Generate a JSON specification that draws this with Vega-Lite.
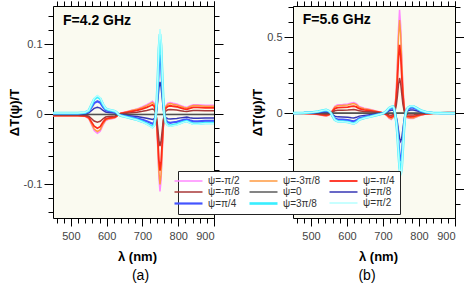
{
"$schema":"https://vega.github.io/schema/vega-lite/v6.json",
"autosize":{"type":"pad"},
"padding":{"left":7,"top":0,"right":0,"bottom":0},
"background":"white",
"spacing":79,
"bounds":"flush",
"resolve":{"scale":{"x":"independent","y":"independent","color":"shared","strokeWidth":"shared"},"legend":{"color":"shared","strokeWidth":"shared"}},
"config":{
 "view":{"stroke":"black","strokeWidth":1,"fill":"#fafaf0"},
 "axis":{"grid":false,"domain":false,"tickColor":"black","tickWidth":1,"labelColor":"#444","labelFont":"Liberation Sans","labelFontSize":11,"titleFont":"Liberation Sans","titleFontSize":13,"titleFontWeight":"bold","titleColor":"black"},
 "font":"Liberation Sans"
},
"datasets":{
"names":[{"k":"m4","psi":"ψ=-π/2"},{"k":"m3","psi":"ψ=-3π/8"},{"k":"m2","psi":"ψ=-π/4"},{"k":"m1","psi":"ψ=-π/8"},{"k":"z","psi":"ψ=0"},{"k":"p1","psi":"ψ=π/8"},{"k":"p2","psi":"ψ=π/4"},{"k":"p3","psi":"ψ=3π/8"},{"k":"p4","psi":"ψ=π/2"}],
"a":[
{"x":450,"m4":-0.002,"m3":-0.0018,"m2":-0.0015,"m1":-0.0008,"z":0,"p1":0.0008,"p2":0.0014,"p3":0.0019,"p4":0.002},
{"x":490,"m4":-0.002,"m3":-0.0018,"m2":-0.0015,"m1":-0.0008,"z":0,"p1":0.0008,"p2":0.0014,"p3":0.0019,"p4":0.002},
{"x":520,"m4":-0.002,"m3":-0.0018,"m2":-0.0015,"m1":-0.0008,"z":0,"p1":0.0008,"p2":0.0014,"p3":0.0019,"p4":0.002},
{"x":540,"m4":-0.003,"m3":-0.0027,"m2":-0.0022,"m1":-0.0012,"z":0,"p1":0.0011,"p2":0.0021,"p3":0.0028,"p4":0.003},
{"x":550,"m4":-0.006,"m3":-0.0055,"m2":-0.0044,"m1":-0.0025,"z":0,"p1":0.0023,"p2":0.0042,"p3":0.0056,"p4":0.006},
{"x":558,"m4":-0.015,"m3":-0.0137,"m2":-0.011,"m1":-0.0062,"z":0,"p1":0.0057,"p2":0.0105,"p3":0.0141,"p4":0.015},
{"x":565,"m4":-0.023,"m3":-0.0209,"m2":-0.0168,"m1":-0.0094,"z":0,"p1":0.0087,"p2":0.0161,"p3":0.0216,"p4":0.023},
{"x":574,"m4":-0.027,"m3":-0.0246,"m2":-0.0197,"m1":-0.0111,"z":0,"p1":0.0103,"p2":0.0189,"p3":0.0254,"p4":0.027},
{"x":582,"m4":-0.024,"m3":-0.0218,"m2":-0.0175,"m1":-0.0098,"z":0,"p1":0.0091,"p2":0.0168,"p3":0.0226,"p4":0.024},
{"x":590,"m4":-0.015,"m3":-0.0137,"m2":-0.011,"m1":-0.0062,"z":0,"p1":0.0057,"p2":0.0105,"p3":0.0141,"p4":0.015},
{"x":597,"m4":-0.009,"m3":-0.0082,"m2":-0.0066,"m1":-0.0037,"z":0,"p1":0.0034,"p2":0.0063,"p3":0.0085,"p4":0.009},
{"x":605,"m4":-0.007,"m3":-0.0064,"m2":-0.0051,"m1":-0.0029,"z":0,"p1":0.0027,"p2":0.0049,"p3":0.0066,"p4":0.007},
{"x":615,"m4":-0.006,"m3":-0.0055,"m2":-0.0044,"m1":-0.0025,"z":0,"p1":0.0023,"p2":0.0042,"p3":0.0056,"p4":0.006},
{"x":623,"m4":-0.005,"m3":-0.0046,"m2":-0.0037,"m1":-0.0021,"z":0,"p1":0.0019,"p2":0.0035,"p3":0.0047,"p4":0.005},
{"x":628,"m4":-0.003,"m3":-0.0027,"m2":-0.0022,"m1":-0.0012,"z":0,"p1":0.0011,"p2":0.0021,"p3":0.0028,"p4":0.003},
{"x":633,"m4":0,"m3":0,"m2":0,"m1":0,"z":0,"p1":0,"p2":0,"p3":0,"p4":0},
{"x":640,"m4":0.002,"m3":0.0018,"m2":0.0015,"m1":0.0008,"z":0,"p1":-0.0008,"p2":-0.0014,"p3":-0.0019,"p4":-0.002},
{"x":655,"m4":0.004,"m3":0.0036,"m2":0.0029,"m1":0.0016,"z":0,"p1":-0.0015,"p2":-0.0028,"p3":-0.0038,"p4":-0.004},
{"x":670,"m4":0.006,"m3":0.0055,"m2":0.0044,"m1":0.0025,"z":0,"p1":-0.0023,"p2":-0.0042,"p3":-0.0056,"p4":-0.006},
{"x":685,"m4":0.008,"m3":0.0073,"m2":0.0058,"m1":0.0033,"z":0,"p1":-0.003,"p2":-0.0056,"p3":-0.0075,"p4":-0.008},
{"x":700,"m4":0.011,"m3":0.01,"m2":0.008,"m1":0.0045,"z":0,"p1":-0.0042,"p2":-0.0077,"p3":-0.0103,"p4":-0.011},
{"x":712,"m4":0.014,"m3":0.0127,"m2":0.0102,"m1":0.0057,"z":0,"p1":-0.0053,"p2":-0.0098,"p3":-0.0132,"p4":-0.014},
{"x":722,"m4":0.017,"m3":0.0155,"m2":0.0124,"m1":0.007,"z":0,"p1":-0.0065,"p2":-0.0119,"p3":-0.016,"p4":-0.017},
{"x":728,"m4":0.019,"m3":0.0173,"m2":0.0139,"m1":0.0078,"z":0,"p1":-0.0072,"p2":-0.0133,"p3":-0.0179,"p4":-0.019},
{"x":733,"m4":0.016,"m3":0.0146,"m2":0.0117,"m1":0.0066,"z":0,"p1":-0.0061,"p2":-0.0112,"p3":-0.015,"p4":-0.016},
{"x":737,"m4":0.004,"m3":0.0036,"m2":0.0029,"m1":0.0016,"z":0,"p1":-0.0015,"p2":-0.0028,"p3":-0.0038,"p4":-0.004},
{"x":740,"m4":-0.016,"m3":-0.0146,"m2":-0.0117,"m1":-0.0066,"z":0,"p1":0.0068,"p2":0.0126,"p3":0.0169,"p4":0.018},
{"x":743,"m4":-0.05,"m3":-0.0455,"m2":-0.0365,"m1":-0.0205,"z":0,"p1":0.0209,"p2":0.0385,"p3":0.0517,"p4":0.055},
{"x":746,"m4":-0.09,"m3":-0.0819,"m2":-0.0657,"m1":-0.0369,"z":0,"p1":0.038,"p2":0.07,"p3":0.094,"p4":0.1},
{"x":749,"m4":-0.11,"m3":-0.1,"m2":-0.0803,"m1":-0.0451,"z":0,"p1":0.0464,"p2":0.0854,"p3":0.1147,"p4":0.122},
{"x":752,"m4":-0.0945,"m3":-0.086,"m2":-0.069,"m1":-0.0387,"z":0,"p1":0.0399,"p2":0.0735,"p3":0.0987,"p4":0.105},
{"x":755,"m4":-0.0585,"m3":-0.0532,"m2":-0.0427,"m1":-0.024,"z":0,"p1":0.0247,"p2":0.0455,"p3":0.0611,"p4":0.065},
{"x":758,"m4":-0.0225,"m3":-0.0205,"m2":-0.0164,"m1":-0.0092,"z":0,"p1":0.0095,"p2":0.0175,"p3":0.0235,"p4":0.025},
{"x":761,"m4":0,"m3":0,"m2":0,"m1":0,"z":0,"p1":0,"p2":0,"p3":0,"p4":0},
{"x":765,"m4":0.012,"m3":0.0109,"m2":0.0088,"m1":0.0049,"z":0,"p1":-0.0046,"p2":-0.0084,"p3":-0.0113,"p4":-0.012},
{"x":771,"m4":0.016,"m3":0.0146,"m2":0.0117,"m1":0.0066,"z":0,"p1":-0.0061,"p2":-0.0112,"p3":-0.015,"p4":-0.016},
{"x":778,"m4":0.017,"m3":0.0155,"m2":0.0124,"m1":0.007,"z":0,"p1":-0.0065,"p2":-0.0119,"p3":-0.016,"p4":-0.017},
{"x":786,"m4":0.016,"m3":0.0146,"m2":0.0117,"m1":0.0066,"z":0,"p1":-0.0061,"p2":-0.0112,"p3":-0.015,"p4":-0.016},
{"x":796,"m4":0.015,"m3":0.0137,"m2":0.011,"m1":0.0062,"z":0,"p1":-0.0057,"p2":-0.0105,"p3":-0.0141,"p4":-0.015},
{"x":806,"m4":0.013,"m3":0.0118,"m2":0.0095,"m1":0.0053,"z":0,"p1":-0.0049,"p2":-0.0091,"p3":-0.0122,"p4":-0.013},
{"x":816,"m4":0.011,"m3":0.01,"m2":0.008,"m1":0.0045,"z":0,"p1":-0.0042,"p2":-0.0077,"p3":-0.0103,"p4":-0.011},
{"x":824,"m4":0.01,"m3":0.0091,"m2":0.0073,"m1":0.0041,"z":0,"p1":-0.0038,"p2":-0.007,"p3":-0.0094,"p4":-0.01},
{"x":832,"m4":0.012,"m3":0.0109,"m2":0.0088,"m1":0.0049,"z":0,"p1":-0.0046,"p2":-0.0084,"p3":-0.0113,"p4":-0.012},
{"x":842,"m4":0.014,"m3":0.0127,"m2":0.0102,"m1":0.0057,"z":0,"p1":-0.0053,"p2":-0.0098,"p3":-0.0132,"p4":-0.014},
{"x":855,"m4":0.014,"m3":0.0127,"m2":0.0102,"m1":0.0057,"z":0,"p1":-0.0053,"p2":-0.0098,"p3":-0.0132,"p4":-0.014},
{"x":875,"m4":0.013,"m3":0.0118,"m2":0.0095,"m1":0.0053,"z":0,"p1":-0.0049,"p2":-0.0091,"p3":-0.0122,"p4":-0.013},
{"x":900,"m4":0.013,"m3":0.0118,"m2":0.0095,"m1":0.0053,"z":0,"p1":-0.0049,"p2":-0.0091,"p3":-0.0122,"p4":-0.013}
],
"b":[
{"x":450,"m4":0,"m3":0,"m2":0,"m1":0,"z":0,"p1":0,"p2":0,"p3":0,"p4":0},
{"x":480,"m4":-0.002,"m3":-0.0018,"m2":-0.0013,"m1":-0.0007,"z":0,"p1":0.0009,"p2":0.0015,"p3":0.0019,"p4":0.002},
{"x":505,"m4":-0.005,"m3":-0.0045,"m2":-0.0033,"m1":-0.0017,"z":0,"p1":0.0027,"p2":0.0046,"p3":0.0058,"p4":0.006},
{"x":520,"m4":-0.01,"m3":-0.009,"m2":-0.0066,"m1":-0.0034,"z":0,"p1":0.0049,"p2":0.0084,"p3":0.0107,"p4":0.011},
{"x":532,"m4":-0.016,"m3":-0.0144,"m2":-0.0106,"m1":-0.0054,"z":0,"p1":0.008,"p2":0.0137,"p3":0.0175,"p4":0.018},
{"x":542,"m4":-0.02,"m3":-0.018,"m2":-0.0132,"m1":-0.0068,"z":0,"p1":0.0098,"p2":0.0167,"p3":0.0213,"p4":0.022},
{"x":549,"m4":-0.015,"m3":-0.0135,"m2":-0.0099,"m1":-0.0051,"z":0,"p1":0.0071,"p2":0.0122,"p3":0.0155,"p4":0.016},
{"x":555,"m4":-0.002,"m3":-0.0018,"m2":-0.0013,"m1":-0.0007,"z":0,"p1":0.0009,"p2":0.0015,"p3":0.0019,"p4":0.002},
{"x":560,"m4":0.02,"m3":0.018,"m2":0.0132,"m1":0.0068,"z":0,"p1":-0.0089,"p2":-0.0152,"p3":-0.0194,"p4":-0.02},
{"x":566,"m4":0.045,"m3":0.0405,"m2":0.0297,"m1":0.0153,"z":0,"p1":-0.02,"p2":-0.0342,"p3":-0.0437,"p4":-0.045},
{"x":574,"m4":0.055,"m3":0.0495,"m2":0.0363,"m1":0.0187,"z":0,"p1":-0.0245,"p2":-0.0418,"p3":-0.0534,"p4":-0.055},
{"x":588,"m4":0.057,"m3":0.0513,"m2":0.0376,"m1":0.0194,"z":0,"p1":-0.0254,"p2":-0.0433,"p3":-0.0553,"p4":-0.057},
{"x":602,"m4":0.06,"m3":0.054,"m2":0.0396,"m1":0.0204,"z":0,"p1":-0.0267,"p2":-0.0456,"p3":-0.0582,"p4":-0.06},
{"x":612,"m4":0.067,"m3":0.0603,"m2":0.0442,"m1":0.0228,"z":0,"p1":-0.0298,"p2":-0.0509,"p3":-0.065,"p4":-0.067},
{"x":619,"m4":0.07,"m3":0.063,"m2":0.0462,"m1":0.0238,"z":0,"p1":-0.0312,"p2":-0.0532,"p3":-0.0679,"p4":-0.07},
{"x":626,"m4":0.062,"m3":0.0558,"m2":0.0409,"m1":0.0211,"z":0,"p1":-0.0276,"p2":-0.0471,"p3":-0.0601,"p4":-0.062},
{"x":634,"m4":0.044,"m3":0.0396,"m2":0.029,"m1":0.015,"z":0,"p1":-0.0196,"p2":-0.0334,"p3":-0.0427,"p4":-0.044},
{"x":648,"m4":0.033,"m3":0.0297,"m2":0.0218,"m1":0.0112,"z":0,"p1":-0.0147,"p2":-0.0251,"p3":-0.032,"p4":-0.033},
{"x":663,"m4":0.025,"m3":0.0225,"m2":0.0165,"m1":0.0085,"z":0,"p1":-0.0111,"p2":-0.019,"p3":-0.0243,"p4":-0.025},
{"x":678,"m4":0.016,"m3":0.0144,"m2":0.0106,"m1":0.0054,"z":0,"p1":-0.0071,"p2":-0.0122,"p3":-0.0155,"p4":-0.016},
{"x":692,"m4":0.007,"m3":0.0063,"m2":0.0046,"m1":0.0024,"z":0,"p1":-0.0031,"p2":-0.0053,"p3":-0.0068,"p4":-0.007},
{"x":702,"m4":0,"m3":0,"m2":0,"m1":0,"z":0,"p1":0,"p2":0,"p3":0,"p4":0},
{"x":710,"m4":-0.015,"m3":-0.0135,"m2":-0.0099,"m1":-0.0051,"z":0,"p1":0.0067,"p2":0.0114,"p3":0.0146,"p4":0.015},
{"x":717,"m4":-0.035,"m3":-0.0315,"m2":-0.0231,"m1":-0.0119,"z":0,"p1":0.0156,"p2":0.0266,"p3":0.034,"p4":0.035},
{"x":723,"m4":-0.042,"m3":-0.0378,"m2":-0.0277,"m1":-0.0143,"z":0,"p1":0.0187,"p2":0.0319,"p3":0.0407,"p4":0.042},
{"x":728,"m4":-0.03,"m3":-0.027,"m2":-0.0198,"m1":-0.0102,"z":0,"p1":0.02,"p2":0.0342,"p3":0.0437,"p4":0.045},
{"x":731,"m4":0,"m3":0,"m2":0,"m1":0,"z":0,"p1":0.0134,"p2":0.0228,"p3":0.0291,"p4":0.03},
{"x":734,"m4":0.06,"m3":0.054,"m2":0.0396,"m1":0.0204,"z":0,"p1":-0.0045,"p2":-0.0076,"p3":-0.0097,"p4":-0.01},
{"x":737,"m4":0.16,"m3":0.144,"m2":0.1056,"m1":0.0544,"z":0,"p1":-0.0267,"p2":-0.0456,"p3":-0.0582,"p4":-0.06},
{"x":740,"m4":0.33,"m3":0.297,"m2":0.2178,"m1":0.1122,"z":0,"p1":-0.0623,"p2":-0.1064,"p3":-0.1358,"p4":-0.14},
{"x":743,"m4":0.55,"m3":0.495,"m2":0.363,"m1":0.187,"z":0,"p1":-0.1157,"p2":-0.1976,"p3":-0.2522,"p4":-0.26},
{"x":746,"m4":0.68,"m3":0.612,"m2":0.4488,"m1":0.2312,"z":0,"p1":-0.1647,"p2":-0.2812,"p3":-0.3589,"p4":-0.37},
{"x":749,"m4":0.58,"m3":0.522,"m2":0.3828,"m1":0.1972,"z":0,"p1":-0.1847,"p2":-0.3154,"p3":-0.4026,"p4":-0.415},
{"x":752,"m4":0.38,"m3":0.342,"m2":0.2508,"m1":0.1292,"z":0,"p1":-0.1647,"p2":-0.2812,"p3":-0.3589,"p4":-0.37},
{"x":755,"m4":0.19,"m3":0.171,"m2":0.1254,"m1":0.0646,"z":0,"p1":-0.1113,"p2":-0.19,"p3":-0.2425,"p4":-0.25},
{"x":758,"m4":0.07,"m3":0.063,"m2":0.0462,"m1":0.0238,"z":0,"p1":-0.0534,"p2":-0.0912,"p3":-0.1164,"p4":-0.12},
{"x":761,"m4":0,"m3":0,"m2":0,"m1":0,"z":0,"p1":-0.0134,"p2":-0.0228,"p3":-0.0291,"p4":-0.03},
{"x":764,"m4":-0.025,"m3":-0.0225,"m2":-0.0165,"m1":-0.0085,"z":0,"p1":0.0045,"p2":0.0076,"p3":0.0097,"p4":0.01},
{"x":769,"m4":-0.033,"m3":-0.0297,"m2":-0.0218,"m1":-0.0112,"z":0,"p1":0.0156,"p2":0.0266,"p3":0.034,"p4":0.035},
{"x":776,"m4":-0.036,"m3":-0.0324,"m2":-0.0238,"m1":-0.0122,"z":0,"p1":0.0209,"p2":0.0357,"p3":0.0456,"p4":0.047},
{"x":784,"m4":-0.035,"m3":-0.0315,"m2":-0.0231,"m1":-0.0119,"z":0,"p1":0.0209,"p2":0.0357,"p3":0.0456,"p4":0.047},
{"x":793,"m4":-0.026,"m3":-0.0234,"m2":-0.0172,"m1":-0.0088,"z":0,"p1":0.0156,"p2":0.0266,"p3":0.034,"p4":0.035},
{"x":805,"m4":-0.014,"m3":-0.0126,"m2":-0.0092,"m1":-0.0048,"z":0,"p1":0.008,"p2":0.0137,"p3":0.0175,"p4":0.018},
{"x":820,"m4":-0.006,"m3":-0.0054,"m2":-0.004,"m1":-0.002,"z":0,"p1":0.0031,"p2":0.0053,"p3":0.0068,"p4":0.007},
{"x":840,"m4":-0.001,"m3":-0.0009,"m2":-0.0007,"m1":-0.0003,"z":0,"p1":0.0004,"p2":0.0008,"p3":0.001,"p4":0.001},
{"x":860,"m4":0.002,"m3":0.0018,"m2":0.0013,"m1":0.0007,"z":0,"p1":0,"p2":0,"p3":0,"p4":0},
{"x":880,"m4":0.004,"m3":0.0036,"m2":0.0026,"m1":0.0014,"z":0,"p1":0,"p2":0,"p3":0,"p4":0},
{"x":900,"m4":0.005,"m3":0.0045,"m2":0.0033,"m1":0.0017,"z":0,"p1":0,"p2":0,"p3":0,"p4":0}
]
},
"hconcat":[
{
 "width":161,"height":212,
 "title":{"text":"(a)","orient":"bottom","fontSize":14,"fontWeight":"normal","font":"Liberation Sans","color":"black","offset":6,"dx":7},
 "resolve":{"axis":{"x":"independent","y":"independent"}},
 "layer":[
  {"data":{"values":[{}]},"mark":{"type":"rule","color":"black","strokeWidth":1},
   "encoding":{"y":{"datum":0,"type":"quantitative","scale":{"domain":[-0.148,0.155],"nice":false,"zero":false},"axis":null}}},
  {"data":{"name":"a"},
   "transform":[{"fold":["m4","m3","m2","m1","z","p1","p2","p3","p4"],"as":["k","v"]},{"lookup":"k","from":{"data":{"name":"names"},"key":"k","fields":["psi"]}}],
   "mark":{"type":"line","clip":true},
   "encoding":{
    "x":{"field":"x","type":"quantitative","scale":{"domain":[450,900],"nice":false,"zero":false},"axis":{"orient":"bottom","values":[500,600,700,800,900],"tickSize":8,"labelPadding":4,"title":"λ (nm)","titlePadding":9,"titleX":84}},
    "y":{"field":"v","type":"quantitative","scale":{"domain":[-0.148,0.155],"nice":false,"zero":false},"axis":{"orient":"left","values":[-0.1,0,0.1],"tickSize":9,"labelPadding":2,"labelExpr":"datum.value < 0 ? '-' + format(-datum.value, '~g') : format(datum.value, '~g')","title":"ΔT(ψ)/T","titlePadding":2}},
    "color":{"field":"psi","type":"nominal","scale":{"domain":["ψ=-π/2","ψ=-3π/8","ψ=-π/4","ψ=-π/8","ψ=0","ψ=π/8","ψ=π/4","ψ=3π/8","ψ=π/2"],"range":["#ff88ff","#ff9a40","#ff2a1a","#a83838","#505050","#3636b4","#4454ff","#38eeff","#b4ffff"]},
      "legend":{"orient":"none","legendX":125,"legendY":165,"direction":"horizontal","columns":3,"title":null,"symbolType":"M-3.5,0H3.5","symbolSize":64,"symbolStrokeWidth":1.5,"labelFont":"Liberation Sans","labelFontSize":10,"labelColor":"#333","labelOffset":14,"columnPadding":4,"rowPadding":1,"padding":5,"strokeColor":"#222","fillColor":"white"}},
    "strokeWidth":{"field":"psi","type":"nominal","scale":{"type":"ordinal","domain":["ψ=-π/2","ψ=-3π/8","ψ=-π/4","ψ=-π/8","ψ=0","ψ=π/8","ψ=π/4","ψ=3π/8","ψ=π/2"],"range":[1.5,1.5,1.8,1.5,1.4,1.5,2.2,2.6,1.5]},"legend":null}
   }},
  {"data":{"values":[{}]},"mark":{"type":"text","text":"F=4.2 GHz","align":"left","baseline":"middle","fontSize":14,"fontWeight":"bold","font":"Liberation Sans","color":"black"},
   "encoding":{"x":{"datum":478,"type":"quantitative","scale":{"domain":[450,900],"nice":false,"zero":false},"axis":{"orient":"top","values":[500,600,700,800,900],"tickSize":5,"labels":false,"title":null}},
    "y":{"datum":0.134,"type":"quantitative","scale":{"domain":[-0.148,0.155],"nice":false,"zero":false},"axis":{"orient":"right","values":[-0.1,0,0.1],"tickSize":9,"labels":false,"title":null}}}},
  {"data":{"values":[{}]},"mark":{"type":"text","text":" ","opacity":0},
   "encoding":{"x":{"datum":500,"type":"quantitative","scale":{"domain":[450,900],"nice":false,"zero":false},"axis":{"orient":"bottom","values":[460,480,500,520,540,560,580,600,620,640,660,680,700,720,740,760,780,800,820,840,860,880,900],"tickSize":5,"labels":false,"title":null}},
    "y":{"datum":0,"type":"quantitative","scale":{"domain":[-0.148,0.155],"nice":false,"zero":false},"axis":{"orient":"left","values":[-0.14,-0.12,-0.1,-0.08,-0.06,-0.04,-0.02,0,0.02,0.04,0.06,0.08,0.1,0.12,0.14],"tickSize":5,"labels":false,"title":null}}}},
  {"data":{"values":[{}]},"mark":{"type":"text","text":" ","opacity":0},
   "encoding":{"x":{"datum":500,"type":"quantitative","scale":{"domain":[450,900],"nice":false,"zero":false},"axis":{"orient":"top","values":[460,480,500,520,540,560,580,600,620,640,660,680,700,720,740,760,780,800,820,840,860,880,900],"tickSize":5,"labels":false,"title":null}},
    "y":{"datum":0,"type":"quantitative","scale":{"domain":[-0.148,0.155],"nice":false,"zero":false},"axis":{"orient":"right","values":[-0.14,-0.12,-0.1,-0.08,-0.06,-0.04,-0.02,0,0.02,0.04,0.06,0.08,0.1,0.12,0.14],"tickSize":5,"labels":false,"title":null}}}}
 ]
},
{
 "width":162,"height":212,
 "title":{"text":"(b)","orient":"bottom","fontSize":14,"fontWeight":"normal","font":"Liberation Sans","color":"black","offset":6,"dx":-7},
 "resolve":{"axis":{"x":"independent","y":"independent"}},
 "layer":[
  {"data":{"values":[{}]},"mark":{"type":"rule","color":"black","strokeWidth":1},
   "encoding":{"y":{"datum":0,"type":"quantitative","scale":{"domain":[-0.69,0.705],"nice":false,"zero":false},"axis":null}}},
  {"data":{"name":"b"},
   "transform":[{"fold":["m4","m3","m2","m1","z","p1","p2","p3","p4"],"as":["k","v"]},{"lookup":"k","from":{"data":{"name":"names"},"key":"k","fields":["psi"]}}],
   "mark":{"type":"line","clip":true},
   "encoding":{
    "x":{"field":"x","type":"quantitative","scale":{"domain":[450,900],"nice":false,"zero":false},"axis":{"orient":"bottom","values":[500,600,700,800,900],"tickSize":8,"labelPadding":4,"title":"λ (nm)","titlePadding":9,"titleX":85}},
    "y":{"field":"v","type":"quantitative","scale":{"domain":[-0.69,0.705],"nice":false,"zero":false},"axis":{"orient":"left","values":[0,0.5],"tickSize":9,"labelPadding":2,"labelExpr":"datum.value < 0 ? '-' + format(-datum.value, '~g') : format(datum.value, '~g')","title":"ΔT(ψ)/T","titlePadding":2}},
    "color":{"field":"psi","type":"nominal","scale":{"domain":["ψ=-π/2","ψ=-3π/8","ψ=-π/4","ψ=-π/8","ψ=0","ψ=π/8","ψ=π/4","ψ=3π/8","ψ=π/2"],"range":["#ff88ff","#ff9a40","#ff2a1a","#a83838","#505050","#3636b4","#4454ff","#38eeff","#b4ffff"]},
      "legend":{"orient":"none","legendX":125,"legendY":165,"direction":"horizontal","columns":3,"title":null,"symbolType":"M-3.5,0H3.5","symbolSize":64,"symbolStrokeWidth":1.5,"labelFont":"Liberation Sans","labelFontSize":10,"labelColor":"#333","labelOffset":14,"columnPadding":4,"rowPadding":1,"padding":5,"strokeColor":"#222","fillColor":"white"}},
    "strokeWidth":{"field":"psi","type":"nominal","scale":{"type":"ordinal","domain":["ψ=-π/2","ψ=-3π/8","ψ=-π/4","ψ=-π/8","ψ=0","ψ=π/8","ψ=π/4","ψ=3π/8","ψ=π/2"],"range":[1.5,1.5,1.8,1.5,1.4,1.5,2.2,2.6,1.5]},"legend":null}
   }},
  {"data":{"values":[{}]},"mark":{"type":"text","text":"F=5.6 GHz","align":"left","baseline":"middle","fontSize":14,"fontWeight":"bold","font":"Liberation Sans","color":"black"},
   "encoding":{"x":{"datum":477,"type":"quantitative","scale":{"domain":[450,900],"nice":false,"zero":false},"axis":{"orient":"top","values":[500,600,700,800,900],"tickSize":5,"labels":false,"title":null}},
    "y":{"datum":0.615,"type":"quantitative","scale":{"domain":[-0.69,0.705],"nice":false,"zero":false},"axis":{"orient":"right","values":[-0.5,0,0.5],"tickSize":9,"labels":false,"title":null}}}},
  {"data":{"values":[{}]},"mark":{"type":"text","text":" ","opacity":0},
   "encoding":{"x":{"datum":500,"type":"quantitative","scale":{"domain":[450,900],"nice":false,"zero":false},"axis":{"orient":"bottom","values":[460,480,500,520,540,560,580,600,620,640,660,680,700,720,740,760,780,800,820,840,860,880,900],"tickSize":5,"labels":false,"title":null}},
    "y":{"datum":0,"type":"quantitative","scale":{"domain":[-0.69,0.705],"nice":false,"zero":false},"axis":{"orient":"left","values":[-0.6,-0.5,-0.4,-0.3,-0.2,-0.1,0,0.1,0.2,0.3,0.4,0.5,0.6,0.7],"tickSize":5,"labels":false,"title":null}}}},
  {"data":{"values":[{}]},"mark":{"type":"text","text":" ","opacity":0},
   "encoding":{"x":{"datum":500,"type":"quantitative","scale":{"domain":[450,900],"nice":false,"zero":false},"axis":{"orient":"top","values":[460,480,500,520,540,560,580,600,620,640,660,680,700,720,740,760,780,800,820,840,860,880,900],"tickSize":5,"labels":false,"title":null}},
    "y":{"datum":0,"type":"quantitative","scale":{"domain":[-0.69,0.705],"nice":false,"zero":false},"axis":{"orient":"right","values":[-0.6,-0.5,-0.4,-0.3,-0.2,-0.1,0,0.1,0.2,0.3,0.4,0.5,0.6,0.7],"tickSize":5,"labels":false,"title":null}}}}
 ]
}
]
}
